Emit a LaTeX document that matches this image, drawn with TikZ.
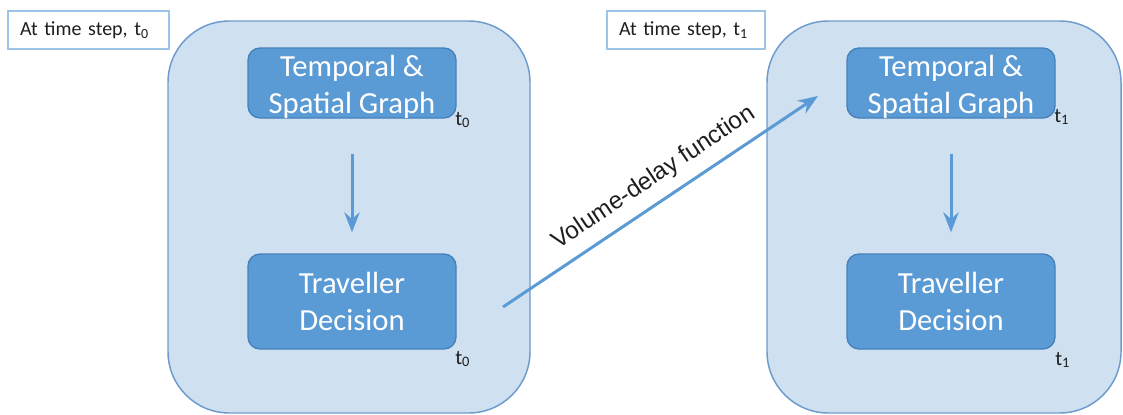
\documentclass[tikz,border=0pt]{standalone}
\usepackage{fontspec}
\setmainfont{Carlito}
\newfontfamily\arialfont{Liberation Sans}
\usetikzlibrary{arrows.meta}

\definecolor{panelfill}{RGB}{207,224,241}
\definecolor{paneldraw}{RGB}{110,155,205}
\definecolor{stagefill}{RGB}{91,155,213}
\definecolor{stagedraw}{RGB}{70,128,185}
\definecolor{flowblue}{RGB}{91,155,213}
\definecolor{tagdraw}{RGB}{157,195,230}
\definecolor{inktext}{RGB}{30,30,30}

\begin{document}
\begin{tikzpicture}[x=0.75pt, y=-0.75pt,
  panel/.style={draw=paneldraw, fill=panelfill, line width=1.1pt,
    rounded corners=46pt, minimum width=#1, minimum height=294pt, inner sep=0pt},
  stage/.style={draw=stagedraw, fill=stagefill, line width=1pt,
    rounded corners=9pt, minimum width=156pt, inner sep=0pt, align=center,
    text=white, font=\fontsize{23}{27.75}\selectfont},
  tag/.style={draw=tagdraw, fill=white, line width=1.1pt, minimum height=28.5pt,
    inner xsep=9pt, inner ysep=0pt, align=left, text=inktext,
    font=\fontsize{15}{18}\selectfont},
  stamp/.style={inner sep=0pt, text=inktext, font=\fontsize{15.5}{18}\selectfont},
  vdf/.style={text=inktext, font=\arialfont\fontsize{18.2}{22}\selectfont},
  flow/.style={draw=flowblue, line width=2.25pt,
    -{Stealth[length=15pt, width=11.5pt, inset=5pt]}}
]
\useasboundingbox (0,0) rectangle (1123,414);

% the two time-step panels
\node[panel=271.5pt] (paneA) at (349,217) {};
\node[panel=265.5pt] (paneB) at (944,217) {};

% time-step captions
\node[tag, text width=102.75pt] (tagA) at (88.5,30) {\mbox{At time step, t\textsubscript{0}}};
\node[tag, text width=100.5pt] (tagB) at (686,30) {\mbox{At time step, t\textsubscript{1}}};

% stages inside each panel (the strut lowers the two lines of the graph boxes)
\node[stage, minimum height=52.5pt] (graphA) at (352,83) {\rule{0pt}{21pt}Temporal \&\\Spatial Graph};
\node[stage, minimum height=71.25pt] (choiceA) at (352,301.5) {Traveller\\Decision};
\node[stage, minimum height=52.5pt] (graphB) at (951,83) {\rule{0pt}{21pt}Temporal \&\\Spatial Graph};
\node[stage, minimum height=71.25pt] (choiceB) at (951,301.5) {Traveller\\Decision};

% time stamps at the stage corners
\node[stamp, anchor=base west] (stampGA) at (455,125) {t\textsubscript{0}};
\node[stamp, anchor=base west] (stampCA) at (455,364) {t\textsubscript{0}};
\node[stamp, anchor=base west] (stampGB) at (1054,122) {t\textsubscript{1}};
\node[stamp, anchor=base west] (stampCB) at (1055,365) {t\textsubscript{1}};

% flow within each time step
\draw[flow, shorten <=26.25pt, shorten >=15.75pt] (graphA.south) -- (choiceA.north);
\draw[flow, shorten <=26.25pt, shorten >=15.75pt] (graphB.south) -- (choiceB.north);

% transition between time steps
\coordinate (vdfFrom) at (503,307);
\coordinate (vdfTo) at (818,96);
\draw[flow] (vdfFrom) -- node[pos=0.52, sloped, above=6pt, inner sep=2pt, vdf] (vdfLabel) {Volume-delay function} (vdfTo);
\end{tikzpicture}
\end{document}
